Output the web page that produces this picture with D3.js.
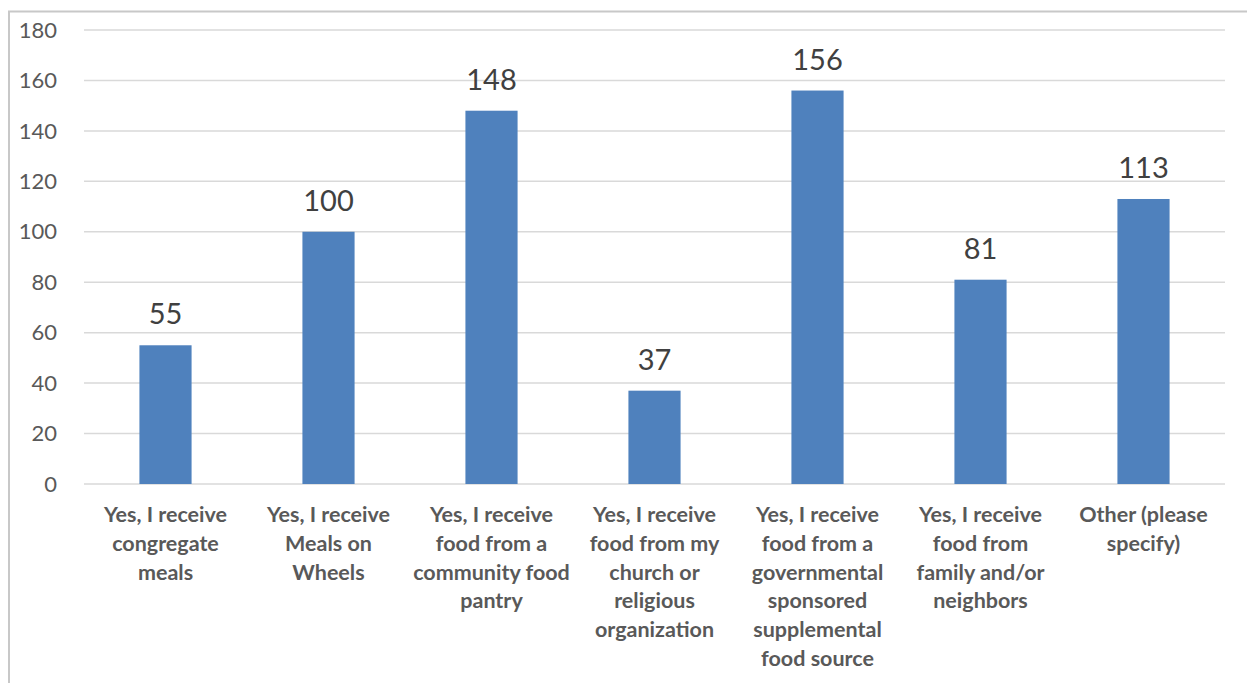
<!DOCTYPE html>
<html>
<head>
<meta charset="utf-8">
<script src="https://cdn.jsdelivr.net/npm/d3@7"></script>
<style>
  body { margin: 0; background: #fff; }
  text { font-family: Lato, "Open Sans", sans-serif; }
</style>
</head>
<body>
<script>
// data
const categories = [
  "Yes, I receive\ncongregate\nmeals",
  "Yes, I receive\nMeals on\nWheels",
  "Yes, I receive\nfood from a\ncommunity food\npantry",
  "Yes, I receive\nfood from my\nchurch or\nreligious\norganization",
  "Yes, I receive\nfood from a\ngovernmental\nsponsored\nsupplemental\nfood source",
  "Yes, I receive\nfood from\nfamily and/or\nneighbors",
  "Other (please\nspecify)"
];
const values = [55, 100, 148, 37, 156, 81, 113];
const yTicks = [0, 20, 40, 60, 80, 100, 120, 140, 160, 180];

const width = 1247, height = 683;
const plotLeft = 84, plotRight = 1225, plotTop = 30, plotBottom = 484;

const svg = d3.select("body").append("svg")
  .attr("width", width)
  .attr("height", height);

// outer frame (cut off at right and bottom)
svg.append("rect")
  .attr("x", 9).attr("y", 11.5)
  .attr("width", 1260).attr("height", 700)
  .attr("fill", "none")
  .attr("stroke", "#c8c8c8")
  .attr("stroke-width", 2);

const x = d3.scaleBand()
  .domain(d3.range(categories.length))
  .range([plotLeft, plotRight])
  .paddingInner(0.68)
  .paddingOuter(0.34);

const y = d3.scaleLinear()
  .domain([0, 180])
  .range([plotBottom, plotTop]);

// gridlines
svg.selectAll("line.grid")
  .data(yTicks)
  .join("line")
  .attr("class", "grid")
  .attr("x1", plotLeft).attr("x2", plotRight)
  .attr("y1", d => y(d)).attr("y2", d => y(d))
  .attr("stroke", "#d9d9d9")
  .attr("stroke-width", 1.5);

// y tick labels
svg.selectAll("text.ytick")
  .data(yTicks)
  .join("text")
  .attr("class", "ytick")
  .attr("x", 57)
  .attr("y", d => y(d))
  .attr("dy", "0.35em")
  .attr("text-anchor", "end")
  .attr("font-size", 22)
  .attr("fill", "#595959")
  .text(d => d);

// bars
svg.selectAll("rect.bar")
  .data(values)
  .join("rect")
  .attr("class", "bar")
  .attr("x", (d, i) => x(i))
  .attr("y", d => y(d))
  .attr("width", x.bandwidth())
  .attr("height", d => y(0) - y(d))
  .attr("fill", "#4f81bd");

// value labels
svg.selectAll("text.val")
  .data(values)
  .join("text")
  .attr("class", "val")
  .attr("x", (d, i) => x(i) + x.bandwidth() / 2)
  .attr("y", d => y(d) - 21)
  .attr("text-anchor", "middle")
  .attr("font-size", 29)
  .attr("fill", "#404040")
  .text(d => d);

// category labels
const cat = svg.selectAll("text.cat")
  .data(categories)
  .join("text")
  .attr("class", "cat")
  .attr("text-anchor", "middle")
  .attr("font-size", 21.5)
  .attr("font-weight", "bold")
  .attr("fill", "#595959");

cat.selectAll("tspan")
  .data((d, i) => d.split("\n").map(s => ({ s, i })))
  .join("tspan")
  .attr("x", d => x(d.i) + x.bandwidth() / 2)
  .attr("y", (d, j) => 522 + j * 28.8)
  .text(d => d.s);
</script>
</body>
</html>
